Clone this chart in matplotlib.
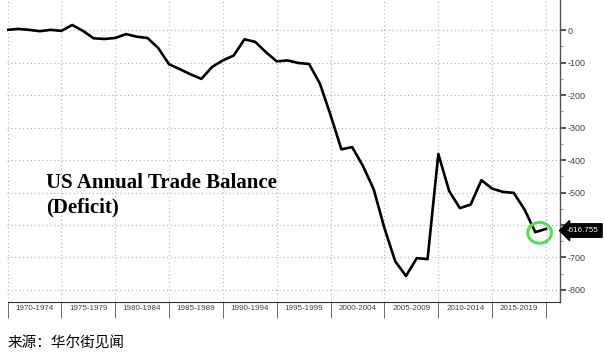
import numpy as np
import matplotlib
matplotlib.use("Agg")
import matplotlib.pyplot as plt
from matplotlib.patches import Ellipse

# annual US trade balance, billions USD
years = list(range(1969, 2020))
balance = [1, 4, 1, -3, 1, -2, 16, -2, -25, -27, -24, -12, -20, -24, -55,
           -105, -120, -136, -150, -113, -93, -78, -28, -36, -68, -96, -93,
           -101, -104, -164, -262, -367, -360, -418, -490, -610, -712, -757,
           -702, -705, -381, -495, -548, -537, -462, -488, -498, -501, -552,
           -622, -612]
last_label = "-616.755"

periods = ["1970-1974", "1975-1979", "1980-1984", "1985-1989", "1990-1994",
           "1995-1999", "2000-2004", "2005-2009", "2010-2014", "2015-2019"]
bounds = list(range(1970, 2021, 5))
yticks = list(range(0, -801, -100))

# points sit at the end of their year
xs = np.array(years) + 1.0

fig = plt.figure(figsize=(6.04, 3.56), dpi=100)
ax = fig.add_axes([7.5 / 604, 1 - 302.3 / 356, (559.5 - 7.5) / 604, 302.3 / 356])

ax.plot(xs, balance, color="black", lw=1.9, solid_joinstyle="round", zorder=3)

ax.set_xlim(1970, 2021.25)
ax.set_ylim(-838, 93)

for b in bounds:
    ax.axvline(b, color="#b0b0b0", lw=0.8, ls=(0, (1, 2.5)), zorder=1)
for t in yticks:
    ax.axhline(t, color="#b0b0b0", lw=0.8, ls=(0, (1, 2.5)), zorder=1)

# right axis (the -600 label sits under the last-value box)
ax.yaxis.tick_right()
ax.set_yticks(yticks)
ax.set_yticklabels(["" if t == -600 else str(t) for t in yticks],
                   fontsize=6.5, color="#444444", family="Liberation Sans")
ax.set_yticks(list(range(-50, -801, -100)), minor=True)
ax.tick_params(axis="y", which="major", direction="out", length=4, width=1.2,
               color="#333333", pad=1.5)
ax.tick_params(axis="y", which="minor", direction="out", length=2, width=0.6,
               color="#777777")

# bottom axis: period labels between separators
ax.set_xticks(bounds)
ax.set_xticklabels([])
ax.tick_params(axis="x", which="major", direction="out", length=11.5, width=0.6,
               color="#555555")
for i, p in enumerate(periods):
    ax.text(bounds[i] + 2.5, -0.01, p, transform=ax.get_xaxis_transform(),
            ha="center", va="top", fontsize=5.8, color="#444444",
            family="Liberation Sans")

for s in ["top", "left"]:
    ax.spines[s].set_visible(False)
ax.spines["bottom"].set_color("#333333")
ax.spines["right"].set_color("#555555")
ax.spines["right"].set_linewidth(1.0)

# title inside the chart
ax.text(1973.6, -508, "US Annual Trade Balance\n(Deficit)", fontsize=15,
        fontweight="bold", family="Liberation Serif", ha="left", va="center",
        linespacing=1.25)

# highlight last point
ax.add_patch(Ellipse((xs[-1] - 0.6, -624), 2.2, 64, fill=False,
                     ec="#55dd55", lw=2.2, zorder=4))
ax.annotate(last_label, xy=(1.0, balance[-1] - 5),
            xycoords=("axes fraction", "data"), xytext=(5.5, 0),
            textcoords="offset points", ha="left", va="center",
            fontsize=5.8, color="white", family="Liberation Sans",
            annotation_clip=False, zorder=6,
            bbox=dict(boxstyle="larrow,pad=0.4", fc="black", ec="black",
                      mutation_scale=6))

fig.text(8 / 604, 1 - 343 / 356, "来源：华尔街见闻", fontsize=10.5,
         family=["Noto Sans CJK SC", "DejaVu Sans"], ha="left", va="center")

fig.savefig("out.png", dpi=100)
